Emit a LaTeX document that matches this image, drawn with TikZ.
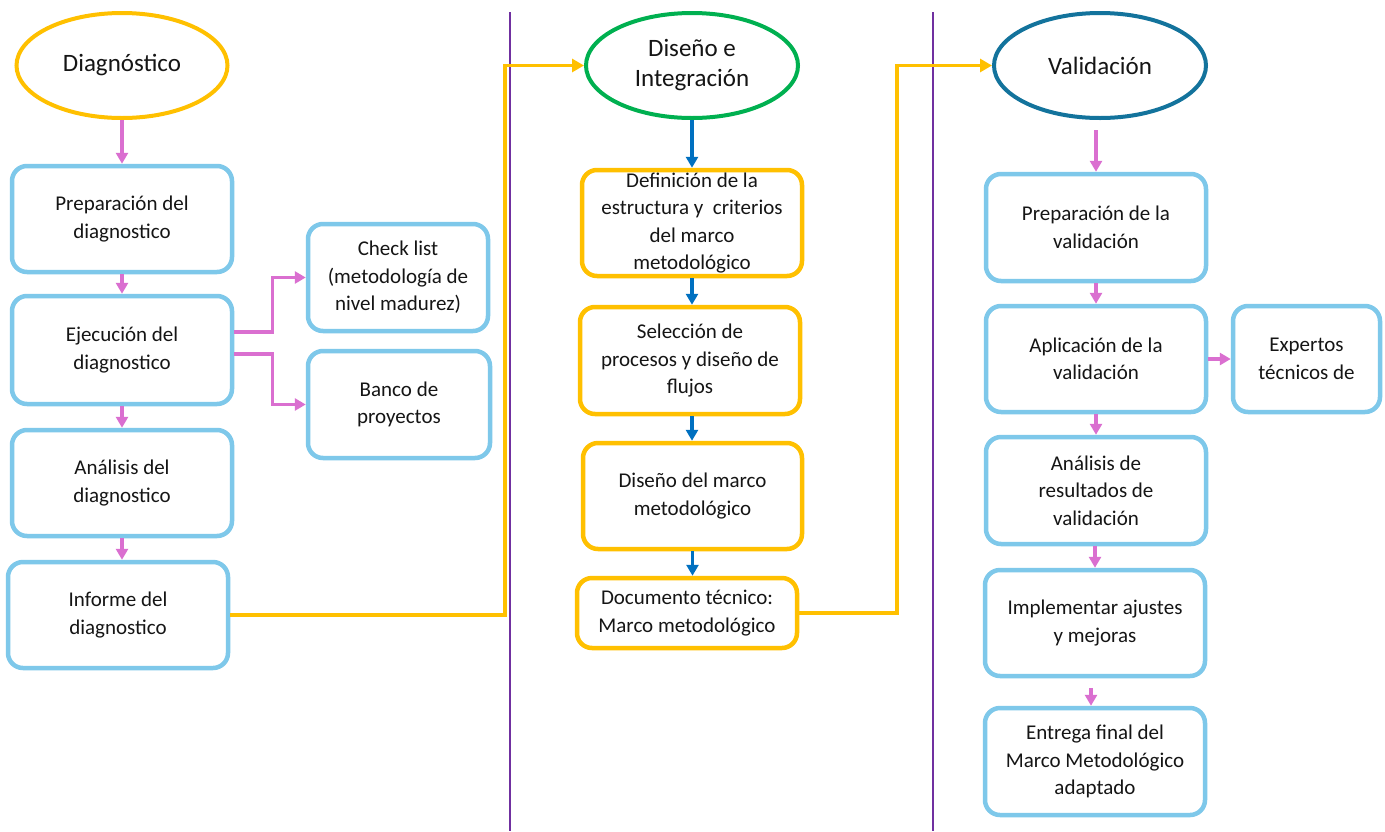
\documentclass[tikz,border=0pt]{standalone}
\usepackage{fontspec}
\setmainfont{Carlito}
\usetikzlibrary{arrows.meta,shapes.geometric}
\definecolor{ylw}{HTML}{FFC000}
\definecolor{pnk}{HTML}{DA6FD0}
\definecolor{sky}{HTML}{7EC8EA}
\definecolor{arrblue}{HTML}{0070C0}
\definecolor{grn}{HTML}{00B050}
\definecolor{teal}{HTML}{13739C}
\definecolor{prp}{HTML}{7030A0}
\definecolor{ink}{HTML}{151515}
\tikzset{
  txt/.style={font=\fontsize{21}{27.5}\selectfont, text=ink, align=center, inner sep=0pt},
  stepbox/.style={txt, draw, rounded corners=15pt, line width=4.5pt},
  skybox/.style={stepbox, draw=sky},
  ylwbox/.style={stepbox, draw=ylw},
  phase/.style={txt, ellipse, draw, line width=4pt, font=\fontsize{25}{30}\selectfont},
  pkarrow/.style={draw=pnk, line width=3.2pt, -{Triangle[length=11pt,width=12pt]}},
  blarrow/.style={draw=arrblue, line width=3.2pt, -{Triangle[length=11pt,width=12pt]}},
  ylarrow/.style={draw=ylw, line width=3.8pt, -{Triangle[length=12pt,width=13pt]}},
  divider/.style={draw=prp, line width=1.8pt},
}
\begin{document}
\begin{tikzpicture}[x=1pt, y=-1pt]
\path[use as bounding box, fill=white] (0,0) rectangle (1385,831);

% column dividers
\coordinate (d1a) at (510,12);  \coordinate (d1b) at (510,831);
\coordinate (d2a) at (933,12);  \coordinate (d2b) at (933,831);
\draw[divider] (d1a) -- (d1b);
\draw[divider] (d2a) -- (d2b);

% phase 1: diagnostic
\node[phase, draw=ylw, minimum width=211pt, minimum height=105pt] (diag) at (122,65.5) {Diagnóstico};
\node[skybox, minimum width=220pt, minimum height=106pt] (prep1) at (122,219) {Preparación del\\diagnostico};
\node[skybox, minimum width=220pt, minimum height=108pt] (ejec) at (122,350) {Ejecución del\\diagnostico};
\node[skybox, minimum width=220pt, minimum height=106pt] (anal1) at (122,483) {Análisis del\\diagnostico};
\node[skybox, minimum width=220pt, minimum height=106pt] (inf) at (118,615) {Informe del\\diagnostico};
\node[skybox, minimum width=180pt, minimum height=107pt] (check) at (398,277.5) {Check list\\(metodología de\\nivel madurez)};
\node[skybox, minimum width=182pt, minimum height=107pt] (banco) at (399,404.5) {Banco de\\proyectos};

% phase 2: design and integration
\node[phase, draw=grn, minimum width=212pt, minimum height=105pt] (dis) at (692,65.5) {Diseño e\\Integración};
\node[ylwbox, minimum width=220pt, minimum height=106pt] (def) at (692,223) {Definición de la\\estructura y~ criterios\\del marco\\metodológico};
\node[ylwbox, minimum width=220pt, minimum height=107pt] (sel) at (690,360.5) {Selección de\\procesos y diseño de\\flujos};
\node[ylwbox, minimum width=219pt, minimum height=106pt] (dmarco) at (692.5,496) {Diseño del marco\\metodológico};
\node[ylwbox, minimum width=220pt, minimum height=70pt] (doc) at (687,613) {Documento técnico:\\Marco metodológico};

% phase 3: validation
\node[phase, draw=teal, minimum width=212pt, minimum height=105pt] (val) at (1100,65.5) {Validación};
\node[skybox, minimum width=220pt, minimum height=107pt] (prepv) at (1096,227.5) {Preparación de la\\validación};
\node[skybox, minimum width=220pt, minimum height=106pt] (apl) at (1096,359) {Aplicación de la\\validación};
\node[skybox, minimum width=147pt, minimum height=106pt] (exp) at (1306.5,359) {Expertos\\técnicos de};
\node[skybox, minimum width=220pt, minimum height=107pt] (analv) at (1096,490.5) {Análisis de\\resultados de\\validación};
\node[skybox, minimum width=220pt, minimum height=106pt] (impl) at (1095,623) {Implementar ajustes\\y mejoras};
\node[skybox, minimum width=220pt, minimum height=107pt] (ent) at (1095,761.5) {Entrega final del\\Marco Metodológico\\adaptado};

% connectors, phase 1
\draw[pkarrow] (diag.south) -- (prep1.north);
\draw[pkarrow] (prep1.south) -- (ejec.north);
\draw[pkarrow] (ejec.south) -- (anal1.north);
\draw[pkarrow] (anal1.south) -- (anal1.south |- inf.north);
\draw[pkarrow] ([yshift=18pt]ejec.east) -- ++(38,0) |- (check.west);
\draw[pkarrow] ([yshift=-4pt]ejec.east) -- ++(38,0) |- (banco.west);
\draw[ylarrow] (inf.east) -- ++(275,0) |- (dis.west);

% connectors, phase 2
\draw[blarrow] (dis.south) -- (def.north);
\draw[blarrow] (def.south) -- (def.south |- sel.north);
\draw[blarrow] (dis.south |- sel.south) -- (dis.south |- dmarco.north);
\draw[blarrow] (dmarco.south) -- (dmarco.south |- doc.north);
\draw[ylarrow] (doc.east) -- ++(98,0) |- (val.west);

% connectors, phase 3
\draw[pkarrow, shorten <=10pt] (val.south -| prepv.north) -- (prepv.north);
\draw[pkarrow] (prepv.south) -- (apl.north);
\draw[pkarrow] (apl.south) -- (analv.north);
\draw[pkarrow] (analv.south -| impl.north) -- (impl.north);
\draw[pkarrow] (apl.east) -- (exp.west);
\draw[pkarrow, shorten <=10pt] ([xshift=-4pt]impl.south) -- ([xshift=-4pt]ent.north);
\end{tikzpicture}
\end{document}
